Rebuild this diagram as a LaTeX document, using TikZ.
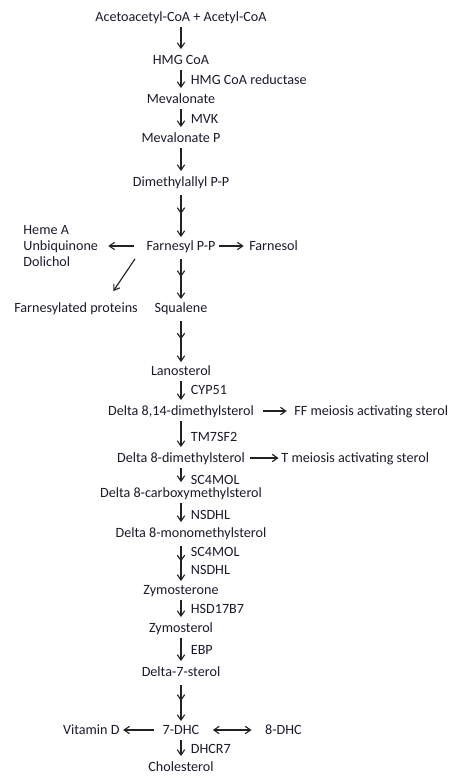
\documentclass[tikz,border=0pt]{standalone}
\usepackage{fontspec}
\setmainfont{Carlito}
\usetikzlibrary{arrows.meta, positioning, decorations.markings}
\definecolor{txtcol}{HTML}{1A1A2C}
\definecolor{arrcol}{HTML}{222222}

\begin{document}
\begin{tikzpicture}[
  x=0.75pt, y=-0.75pt,
  lbl/.style={font=\fontsize{10.6}{12}\selectfont, text=txtcol, inner sep=1.5pt},
  met/.style={lbl, text height=8pt, text depth=2pt},
  enz/.style={lbl, inner sep=1pt, right=6pt},
  arr/.style={color=arrcol, line width=0.85pt, -{Straight Barb[length=4pt, width=5.5pt]}, shorten <=1pt, shorten >=1.5pt},
  darr/.style={arr, shorten <=3pt, shorten >=0pt, postaction={decorate},
    decoration={markings, mark=at position 0.5 with {\arrow{Straight Barb[length=4pt, width=5.5pt]}}}},
  side/.style={arr, shorten <=5pt, shorten >=4pt}
]
  \useasboundingbox (0,0) rectangle (459,779);

  % main chain
  \node[met] (acac) at (181,17) {Acetoacetyl-CoA + Acetyl-CoA};
  \node[met] (hmg) at (181,60) {HMG CoA};
  \node[met] (mev) at (181,99) {Mevalonate};
  \node[met] (mevp) at (181,138) {Mevalonate P};
  \node[met] (dmapp) at (181,182) {Dimethylallyl P-P};
  \node[met] (fpp) at (181,246) {Farnesyl P-P};
  \node[met, right=22pt of fpp] (farnesol) {Farnesol};
  \node[lbl, align=left, left=33pt of fpp] (heme) {Heme A\\Unbiquinone\\Dolichol};
  \node[met] (fprot) at (76,308) {Farnesylated proteins};
  \node[met] (squal) at (181,308) {Squalene};
  \node[met] (lano) at (181,371) {Lanosterol};
  \node[met] (d814) at (181,411) {Delta 8,14-dimethylsterol};
  \node[met, right=27pt of d814] (ff) {FF meiosis activating sterol};
  \node[met] (d8dm) at (181,458) {Delta 8-dimethylsterol};
  \node[met, right=24pt of d8dm] (tmas) {T meiosis activating sterol};
  \node[met] (d8cm) at (181,493) {Delta 8-carboxymethylsterol};
  \node[met] (d8mm) at (191,533) {Delta 8-monomethylsterol};
  \node[met] (zymone) at (181,590) {Zymosterone};
  \node[met] (zymol) at (181,628) {Zymosterol};
  \node[met] (d7) at (181,672) {Delta-7-sterol};
  \node[met] (dhc7) at (181,730) {7-DHC};
  \node[met, left=29pt of dhc7] (vitd) {Vitamin D};
  \node[met, right=46pt of dhc7] (dhc8) {8-DHC};
  \node[met] (chol) at (181,767) {Cholesterol};

  % connectors
  \draw[arr] (acac) -- (hmg);
  \draw[arr] (hmg) -- node[enz] {HMG CoA reductase} (mev);
  \draw[arr] (mev) -- node[enz] {MVK} (mevp);
  \draw[arr] (mevp) -- (dmapp);
  \draw[darr] (dmapp) -- (fpp);
  \draw[side, shorten <=1pt, shorten >=2.5pt] (fpp) -- (farnesol);
  \draw[side, shorten <=8pt, shorten >=6pt] (fpp) -- (heme);
  \draw[arr, shorten <=0pt, shorten >=0pt] ([xshift=-7pt, yshift=-3pt]fpp.south west) -- ([xshift=28pt, yshift=6pt]fprot.north);
  \draw[darr] (fpp) -- (squal);
  \draw[darr] (squal) -- (lano);
  \draw[arr] (lano) -- node[enz, pos=0.45] {CYP51} (d814);
  \draw[side] (d814) -- (ff);
  \draw[arr] (d814) -- node[enz, pos=0.6] {TM7SF2} (d8dm);
  \draw[side, shorten <=2pt, shorten >=0.5pt] (d8dm) -- (tmas);
  \draw[arr] (d8dm) -- node[enz, pos=0.75] {SC4MOL} (d8cm);
  \draw[arr] (d8cm) -- node[enz, pos=0.6] {NSDHL} (d8mm.north -| d8cm);
  \draw[darr] (d8mm.south -| zymone) -- node[enz, pos=0.25] {SC4MOL} node[enz, pos=0.72] {NSDHL} (zymone);
  \draw[arr] (zymone) -- node[enz] {HSD17B7} (zymol);
  \draw[arr] (zymol) -- node[enz] {EBP} (d7);
  \draw[darr] (d7) -- (dhc7);
  \draw[side, shorten <=5pt, shorten >=1pt] (dhc7) -- (vitd);
  \draw[side, {Straight Barb[length=4pt, width=5.5pt]}-{Straight Barb[length=4pt, width=5.5pt]}, shorten <=8.5pt, shorten >=8.5pt] (dhc7) -- (dhc8);
  \draw[arr] (dhc7) -- node[enz] {DHCR7} (chol);
\end{tikzpicture}
\end{document}
